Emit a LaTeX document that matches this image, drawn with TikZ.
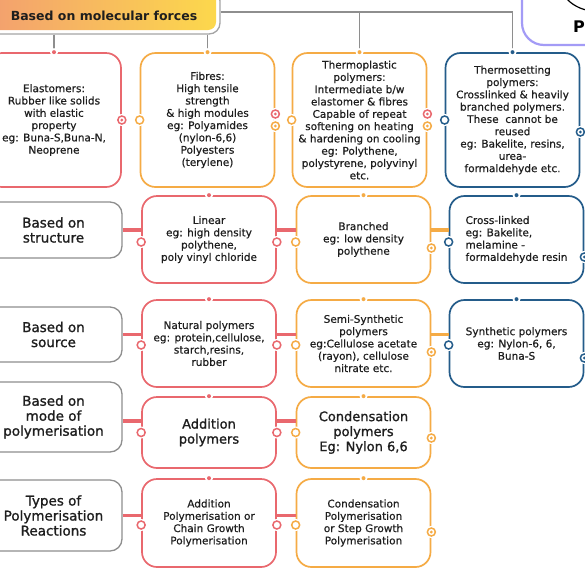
\documentclass[tikz,border=0pt]{standalone}
\usepackage{fontspec}
\setmainfont{DejaVu Sans}
\newfontfamily\cardfont{DejaVu Sans}[FakeBold=0.5]
\newfontfamily\topicfont{DejaVu Sans}[FakeBold=1.2]
\usetikzlibrary{calc}
\definecolor{mmred}{HTML}{E9686E}
\definecolor{mmorange}{HTML}{F5AB45}
\definecolor{mmblue}{HTML}{245C8A}
\definecolor{mmgray}{HTML}{8E8E8E}
\definecolor{mmpurple}{HTML}{A39BF6}
\definecolor{hdrleft}{HTML}{F3A06F}
\definecolor{hdrright}{HTML}{FCD84C}
\definecolor{ink}{HTML}{1E1E1E}
\def\openring[#1](#2){\fill[white] (#2) circle (6pt); \draw[#1,line width=1.5pt,fill=white] (#2) circle (4pt);}
\def\targetring[#1](#2){\openring[#1](#2)\fill[#1] (#2) circle (1.6pt);}
\def\topdot[#1](#2){\fill[white] (#2) circle (4pt); \fill[#1] (#2) circle (2pt);}
\tikzset{
  card/.style={rounded corners=15pt, line width=1.7pt, inner sep=2pt, align=center, text=ink,
    minimum width=134pt, font=\cardfont\fontsize{10.5}{12.3}\selectfont},
  redcard/.style={card, draw=mmred},
  orangecard/.style={card, draw=mmorange},
  bluecard/.style={card, draw=mmblue},
  topic/.style={draw=mmgray, line width=1.3pt, rounded corners=12pt, minimum width=137pt,
    align=center, text=ink, font=\topicfont\fontsize{13.5}{15}\selectfont},
  treeline/.style={mmgray, line width=1.3pt},
  redlink/.style={mmred, line width=3.2pt},
  orangelink/.style={mmorange, line width=3.2pt}
}
\begin{document}
\begin{tikzpicture}[x=1pt,y=-1pt]
			%%%%% START %%%%%
			\useasboundingbox (0,0) rectangle (585,571);
			\fill[white] (0,0) rectangle (585,571);
			
			% title corner
			\begin{scope}
				\clip (0,0) rectangle (585,571);
				\draw[mmpurple, line width=2.2pt, rounded corners=22pt] (522,-30) rectangle (640,45);
				\draw[black, line width=1.2pt] (595,-28) circle (39pt);
				\node[anchor=base west, inner sep=0, font=\bfseries\fontsize{16}{18}\selectfont] (title) at (573,32) {Po};
			\end{scope}
			
			% header
			\shade[left color=hdrleft, right color=hdrright, rounded corners=8pt] (-10,-10) rectangle (216,30);
			\node[draw=mmgray!80, line width=1.3pt, rounded corners=11pt, minimum width=232pt, minimum height=44pt,
				text=ink, font=\bfseries\fontsize{12.5}{14}\selectfont] (header) at (104,12) {\raisebox{-8pt}[0pt][0pt]{Based on molecular forces}};
			
			% row 1
			\node[redcard, minimum height=134pt] (elastomers) at (54,120) {Elastomers:\\Rubber like solids\\with elastic\\property\\eg: Buna-S,Buna-N,\\Neoprene};
			\node[orangecard, minimum height=134pt] (fibres) at (207.5,120) {Fibres:\\High tensile\\strength\\\& high modules\\eg: Polyamides\\(nylon-6,6)\\Polyesters\\(terylene)};
			\node[orangecard, minimum height=134pt] (thermoplastic) at (359.5,120) {Thermoplastic\\polymers:\\Intermediate b/w\\elastomer \& fibres\\Capable of repeat\\softening on heating\\\& hardening on cooling\\eg: Polythene,\\polystyrene, polyvinyl\\etc.};
			\node[bluecard, minimum height=134pt] (thermosetting) at (512.5,120) {Thermosetting\\polymers:\\Crosslinked \& heavily\\branched polymers.\\These~ cannot be\\reused\\eg: Bakelite, resins,\\urea-\\formaldehyde etc.};
			
			\draw[treeline] (header.east) -| (thermosetting.north);
			\draw[treeline] (header.east -| thermoplastic.north) -- (thermoplastic.north);
			\draw[treeline] (header.south -| elastomers.north) -- (elastomers.north);
			\draw[treeline] (header.south -| fibres.north) -- (fibres.north);
			
			% row 2
			\node[topic, minimum height=56pt] (structure) at (53.5,230) {Based on\\structure};
			\node[redcard, minimum height=87pt] (linear) at (209,239.5) {Linear\\eg: high density\\polythene,\\poly vinyl chloride};
			\node[orangecard, minimum height=87pt] (branched) at (363.5,239.5) {Branched\\eg: low density\\polythene};
			\node[bluecard, minimum height=87pt, align=left] (crosslinked) at (516.5,239.5) {Cross-linked\\ eg: Bakelite,\\melamine -\\formaldehyde resin};
			\draw[redlink] (structure.east) -- (structure.east -| linear.west);
			\draw[redlink] (linear.east |- structure.east) -- (branched.west |- structure.east);
			\draw[orangelink] (branched.east |- structure.east) -- (crosslinked.west |- structure.east);
			
			% row 3
			\node[topic, minimum height=55pt] (source) at (53.5,334.5) {Based on\\source};
			\node[redcard, minimum height=87pt] (natural) at (209,343.5) {Natural polymers\\eg: protein,cellulose,\\starch,resins,\\rubber};
			\node[orangecard, minimum height=87pt] (semisynthetic) at (363.5,343.5) {Semi-Synthetic\\polymers\\eg:Cellulose acetate\\(rayon), cellulose\\nitrate etc.};
			\node[bluecard, minimum height=87pt] (synthetic) at (516.5,343.5) {Synthetic polymers\\eg: Nylon-6, 6,\\Buna-S};
			\draw[redlink] (source.east) -- (source.east -| natural.west);
			\draw[redlink] (natural.east |- source.east) -- (semisynthetic.west |- source.east);
			\draw[orangelink] (semisynthetic.east |- source.east) -- (synthetic.west |- source.east);
			
			% row 4
			\node[topic, minimum height=70pt] (mode) at (53.5,417) {Based on\\mode of\\polymerisation};
			\node[redcard, minimum height=71pt, font=\topicfont\fontsize{13}{15}\selectfont] (addpoly) at (209,432.5) {Addition\\polymers};
			\node[orangecard, minimum height=71pt, font=\topicfont\fontsize{13}{15}\selectfont] (condpoly) at (363.5,432.5) {Condensation\\polymers\\Eg: Nylon 6,6};
			\draw[redlink] ([yshift=-4pt]mode.east) -- ([yshift=-4pt]mode.east -| addpoly.west);
			\draw[redlink] ([yshift=-4pt]addpoly.east |- mode.east) -- ([yshift=-4pt]condpoly.west |- mode.east);
			
			% row 5
			\node[topic, minimum height=71pt] (reactions) at (53.5,515.5) {Types of\\Polymerisation\\Reactions};
			\node[redcard, minimum height=88pt] (chaingrowth) at (209,523) {Addition\\Polymerisation or\\Chain Growth\\Polymerisation};
			\node[orangecard, minimum height=88pt] (stepgrowth) at (363.5,523) {Condensation\\Polymerisation\\or Step Growth\\Polymerisation};
			\draw[redlink] (reactions.east) -- (reactions.east -| chaingrowth.west);
			\draw[redlink] (chaingrowth.east |- reactions.east) -- (stepgrowth.west |- reactions.east);
			
			% top dots
			\topdot[mmred](elastomers.north)
			\topdot[mmorange](fibres.north)
			\topdot[mmorange](thermoplastic.north)
			\topdot[mmblue](thermosetting.north)
			\topdot[mmred](linear.north)
			\topdot[mmorange](branched.north)
			\topdot[mmblue](crosslinked.north)
			\topdot[mmred](natural.north)
			\topdot[mmorange](semisynthetic.north)
			\topdot[mmblue](synthetic.north)
			\topdot[mmred](addpoly.north)
			\topdot[mmorange](condpoly.north)
			\topdot[mmred](chaingrowth.north)
			\topdot[mmorange](stepgrowth.north)
			
			% side rings
			\targetring[mmred](elastomers.east)
			\openring[mmorange](fibres.west)
			\targetring[mmred]([yshift=6pt]fibres.east)
			\targetring[mmorange]([yshift=-6pt]fibres.east)
			\openring[mmorange](thermoplastic.west)
			\targetring[mmred]([yshift=6pt]thermoplastic.east)
			\targetring[mmorange]([yshift=-6pt]thermoplastic.east)
			\openring[mmblue](thermosetting.west)
			\targetring[mmblue]([yshift=-12pt]thermosetting.east)
			
			\openring[mmred]([yshift=-2.5pt]linear.west)
			\openring[mmred]([yshift=-2.5pt]linear.east)
			\openring[mmorange]([yshift=-2.5pt]branched.west)
			\targetring[mmorange]([yshift=-8.5pt]branched.east)
			\openring[mmblue]([yshift=-2.5pt]crosslinked.west)
			\targetring[mmblue]([yshift=-17.5pt]crosslinked.east)
			
			\openring[mmred]([yshift=-1.5pt]natural.west)
			\openring[mmred]([yshift=-1.5pt]natural.east)
			\openring[mmorange]([yshift=-1.5pt]semisynthetic.west)
			\targetring[mmorange]([yshift=-8.5pt]semisynthetic.east)
			\openring[mmblue]([yshift=-1.5pt]synthetic.west)
			\targetring[mmblue]([yshift=-14.5pt]synthetic.east)
			
			\openring[mmred](addpoly.west)
			\openring[mmred](addpoly.east)
			\openring[mmorange](condpoly.west)
			\targetring[mmorange]([yshift=-5.5pt]condpoly.east)
			
			\openring[mmred]([yshift=-2pt]chaingrowth.west)
			\openring[mmred]([yshift=-2pt]chaingrowth.east)
			\openring[mmorange]([yshift=-2pt]stepgrowth.west)
			\targetring[mmorange]([yshift=-9pt]stepgrowth.east)
			%%%%% END %%%%%
\end{tikzpicture}
\end{document}
